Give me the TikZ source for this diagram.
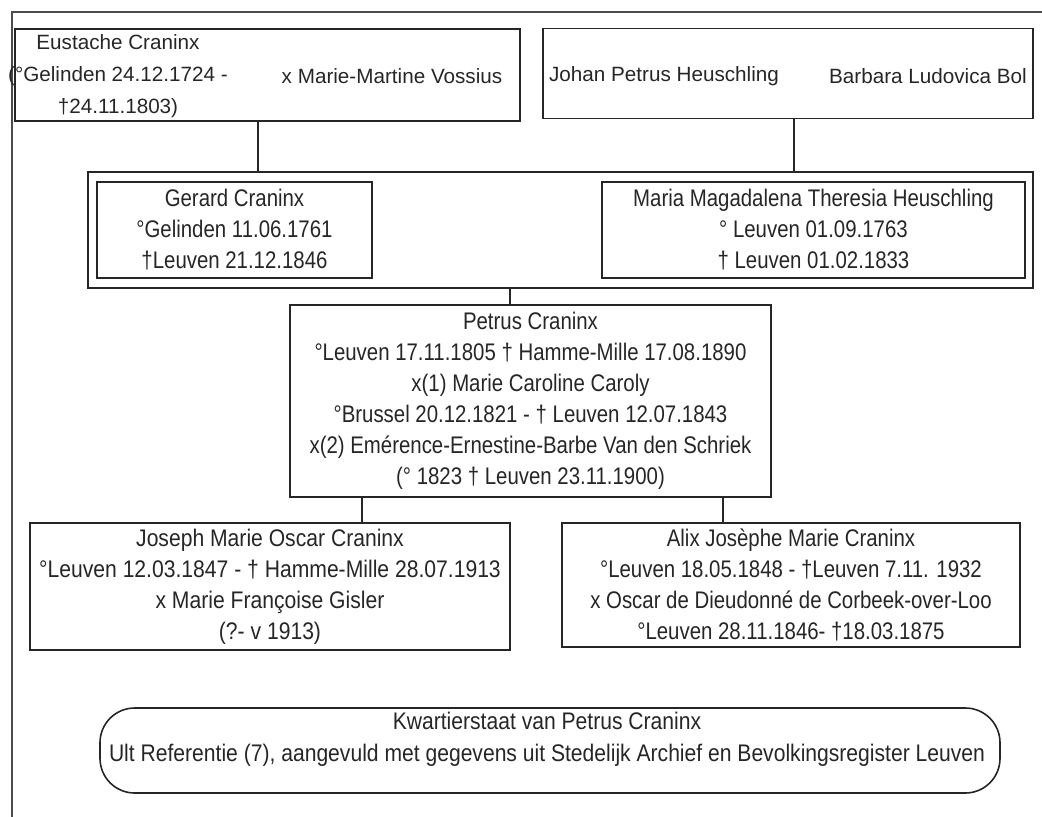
\documentclass[tikz,border=0pt]{standalone}
\usepackage{fontspec}
\setmainfont{Liberation Sans}[FakeStretch=0.85]
\newfontfamily\plainfont{Liberation Sans}
\newfontfamily\josephfont{Liberation Sans}[FakeStretch=0.88]
\newfontfamily\notefont{Liberation Sans}[FakeStretch=0.879]
\usetikzlibrary{calc}

\begin{document}
\begin{tikzpicture}[x=0.75pt,y=-0.75pt,line width=1.2pt,
    font=\fontsize{18}{23.25}\selectfont,
    box/.style={draw=black!85,rectangle,inner sep=0pt},
    txt/.style={align=center,text=black!85,inner sep=0pt},
    toptxt/.style={txt,font=\plainfont\fontsize{15.5}{24}\selectfont},
    link/.style={draw=black!85,line width=1pt}]

    \useasboundingbox (0,0) rectangle (1042,817);

    % Frame, only top and left edge
    \draw [black!70,line width=1pt] (1042,12) -- (12,12) -- (12,817);

    % Great-grandparents
    \node [box,minimum width=378.75pt,minimum height=69pt] (eustache) at (267.5,75) {};
    \node [toptxt] (eustachetxt) at (118,76)
        {Eustache Craninx\\(°Gelinden 24.12.1724 -\\†24.11.1803)};
    \node [toptxt] (vossius) at (392,76) {x Marie-Martine Vossius};

    \node [box,minimum width=367.5pt,minimum height=67.5pt] (johan) at (788,73.5) {};
    \node [toptxt] (johantxt) at (664,76) {Johan Petrus Heuschling};
    \node [toptxt] (bol) at (928,76) {Barbara Ludovica Bol};

    % Grandparents (couple frame)
    \node [box,minimum width=708.75pt,minimum height=87pt] (parents) at (560.5,230) {};
    \node [box,txt,minimum width=206.25pt,minimum height=72pt] (gerard) at (234.5,230)
        {Gerard Craninx\\°Gelinden 11.06.1761\\†Leuven 21.12.1846};
    \node [box,txt,minimum width=317.25pt,minimum height=72pt] (maria) at (813.5,230)
        {Maria Magadalena Theresia Heuschling\\° Leuven 01.09.1763\\† Leuven 01.02.1833};

    % Petrus
    \node [box,txt,minimum width=360.75pt,minimum height=144pt] (petrus) at (530.5,401)
        {Petrus Craninx\\°Leuven 17.11.1805 † Hamme-Mille 17.08.1890\\x(1) Marie Caroline Caroly\\°Brussel 20.12.1821 - † Leuven 12.07.1843\\x(2) Emérence-Ernestine-Barbe Van den Schriek\\(° 1823 † Leuven 23.11.1900)};

    % Children
    \node [box,txt,font=\josephfont\fontsize{18}{23.25}\selectfont,minimum width=360pt,minimum height=95.25pt] (joseph) at (270,586.5)
        {Joseph Marie Oscar Craninx\\°Leuven 12.03.1847 - † Hamme-Mille 28.07.1913\\x Marie Françoise Gisler\\(?- v 1913)};
    \node [box,txt,minimum width=343.5pt,minimum height=93pt] (alix) at (791,585)
        {Alix Josèphe Marie Craninx\\°Leuven 18.05.1848 - †Leuven 7.11. 1932\\x Oscar de Dieudonné de Corbeek-over-Loo\\°Leuven 28.11.1846- †18.03.1875};

    % Caption
    \node [box,rounded corners=26pt,minimum width=675pt,minimum height=63.75pt] (note) at (550,750.5) {};
    \node [txt,font=\notefont\fontsize{18}{24}\selectfont] (notetxt) at (547,739)
        {Kwartierstaat van Petrus Craninx\\Ult Referentie (7), aangevuld met gegevens uit Stedelijk Archief en Bevolkingsregister Leuven};

    % Connectors
    \draw [link] ([xshift=-7.1pt]eustache.south) -- ([xshift=-7.1pt]eustache.south |- parents.north);
    \draw [link] ([xshift=4.5pt]johan.south) -- ([xshift=4.5pt]johan.south |- parents.north);
    \draw [link] ([xshift=-15.4pt]petrus.north) -- ([xshift=-15.4pt]petrus.north |- parents.south);
    \draw [link] ([xshift=-126.4pt]petrus.south) -- ([xshift=-126.4pt]petrus.south |- joseph.north);
    \draw [link] ([xshift=144.4pt]petrus.south) -- ([xshift=144.4pt]petrus.south |- alix.north);

\end{tikzpicture}
\end{document}
